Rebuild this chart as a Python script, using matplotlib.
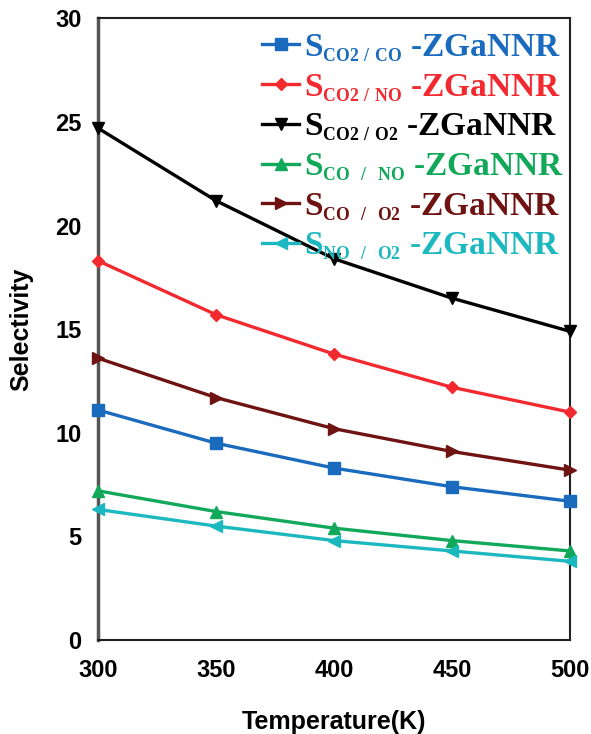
import matplotlib
matplotlib.use("Agg")
import matplotlib.pyplot as plt
import matplotlib._mathtext as _mt

_mt.SHRINK_FACTOR = 0.53

temperature = [300, 350, 400, 450, 500]
s_co2_co = [11.1, 9.5, 8.3, 7.4, 6.7]
s_co2_no = [18.3, 15.7, 13.8, 12.2, 11.0]
s_co2_o2 = [24.7, 21.2, 18.4, 16.5, 14.9]
s_co_no = [7.2, 6.2, 5.4, 4.8, 4.3]
s_co_o2 = [13.6, 11.7, 10.2, 9.1, 8.2]
s_no_o2 = [6.3, 5.5, 4.8, 4.3, 3.8]

labels = [
    r"S$_{\mathregular{CO2\ /\ CO}}$ -ZGaNNR",
    r"S$_{\mathregular{CO2\ /\ NO}}$ -ZGaNNR",
    r"S$_{\mathregular{CO2\ /\ O2}}$ -ZGaNNR",
    r"S$_{\mathregular{CO\ \ /\ \ NO}}$ -ZGaNNR",
    r"S$_{\mathregular{CO\ \ /\ \ O2}}$ -ZGaNNR",
    r"S$_{\mathregular{NO\ \ /\ \ O2}}$ -ZGaNNR",
]
series = [s_co2_co, s_co2_no, s_co2_o2, s_co_no, s_co_o2, s_no_o2]
colors = ["#1A6BBE", "#F22A30", "#000000", "#12A85A", "#6E1212", "#1CB8C0"]
markers = ["s", "D", "v", "^", ">", "<"]
msizes = [9, 6, 8, 8, 8, 8]

plt.rcParams["mathtext.fontset"] = "custom"
plt.rcParams["mathtext.rm"] = "Liberation Serif:bold"

fig = plt.figure(figsize=(5.91, 7.34), dpi=100)
ax = fig.add_axes([0.166, 0.128, 0.798, 0.847])

for y, c, m, ms, lab in zip(series, colors, markers, msizes, labels):
    ax.plot(temperature, y, color=c, marker=m, markersize=ms, linewidth=2.4,
            label=lab, clip_on=False, zorder=3)

ax.set_xlim(300, 500)
ax.set_ylim(0, 30)
ax.set_xticks([300, 350, 400, 450, 500])
ax.set_yticks([0, 5, 10, 15, 20, 25, 30])
ax.tick_params(length=0)
for t in ax.get_xticklabels() + ax.get_yticklabels():
    t.set_fontfamily("Liberation Sans")
    t.set_fontweight("bold")
    t.set_fontsize(17)
ax.tick_params(axis="x", pad=14)
ax.tick_params(axis="y", pad=12)

for s in ["top", "right", "bottom"]:
    ax.spines[s].set_linewidth(1.5)
    ax.spines[s].set_color("#222222")
ax.spines["left"].set_linewidth(2.5)
ax.spines["left"].set_color("#555555")

ax.set_xlabel("Temperature(K)", fontfamily="Liberation Sans", fontweight="bold",
              fontsize=18, labelpad=20)
ax.set_ylabel("Selectivity", fontfamily="Liberation Sans", fontweight="bold",
              fontsize=18, labelpad=16)

leg = ax.legend(loc="upper right", bbox_to_anchor=(1.03, 1.01), frameon=False,
                prop={"family": "Liberation Serif", "weight": "bold", "size": 24},
                handlelength=1.1, handletextpad=0.15, labelspacing=0.24,
                borderaxespad=0.2)
for txt, c in zip(leg.get_texts(), colors):
    txt.set_color(c)

fig.savefig("out.png", dpi=100)
